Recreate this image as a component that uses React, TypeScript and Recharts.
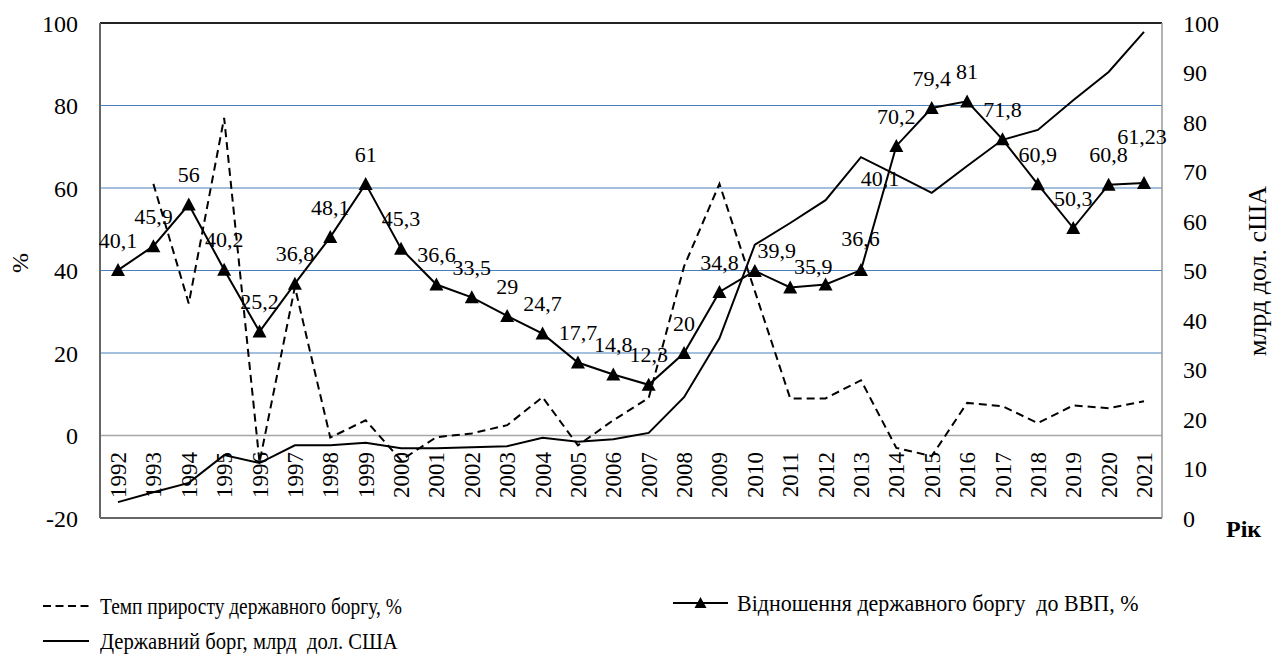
import React from "react";
import {
  ComposedChart,
  Line,
  XAxis,
  YAxis,
  ReferenceLine,
  LabelList,
} from "recharts";

const years = [
  "1992", "1993", "1994", "1995", "1996", "1997", "1998", "1999", "2000", "2001",
  "2002", "2003", "2004", "2005", "2006", "2007", "2008", "2009", "2010", "2011",
  "2012", "2013", "2014", "2015", "2016", "2017", "2018", "2019", "2020", "2021",
];

// темп приросту державного боргу, %
const growthRate = [
  null, 61, 32, 77, -6.5, 36, -0.5, 3.7, -6, -0.4,
  0.5, 2.5, 9.3, -2.4, 3.7, 9.1, 41, 61, 35, 9,
  9, 13.4, -3, -5, 7.9, 7.1, 3, 7.3, 6.6, 8.3,
];

// відношення державного боргу до ВВП, %
const debtToGdp = [
  40.1, 45.9, 56, 40.2, 25.2, 36.8, 48.1, 61, 45.3, 36.6,
  33.5, 29, 24.7, 17.7, 14.8, 12.3, 20, 34.8, 39.9, 35.9,
  36.6, 40.1, 70.2, 79.4, 81, 71.8, 60.9, 50.3, 60.8, 61.23,
];

// державний борг, млрд дол. США
const debt = [
  3.2, 5.2, 7.1, 12.7, 11.1, 14.7, 14.7, 15.2, 14.1, 14.1,
  14.3, 14.5, 16.2, 15.4, 15.9, 17.2, 24.4, 36.3, 55.2, 59.6,
  64.2, 72.9, 69.3, 65.7, 71.1, 76.4, 78.4, 84.4, 90.1, 98.2,
];

const leftTicks = [-20, 0, 20, 40, 60, 80, 100];
const rightTicks = [0, 10, 20, 30, 40, 50, 60, 70, 80, 90, 100];
const gridValues = [20, 40, 60, 80];

const data = years.map((year, i) => ({
  year,
  growth: growthRate[i],
  ratio: debtToGdp[i],
  debt: debt[i],
}));

const FONT = '"Liberation Serif", Tinos, "DejaVu Serif", serif';
const GRID = "#4a7ebb";

// a few labels were moved by hand in the original
const labelShift: Record<number, [number, number]> = {
  18: [22, -21],
  19: [23, -21],
  20: [35, -46],
  21: [19, -92],
  29: [-2, -47],
};

const fmt = (v: number) => String(v).replace(".", ",");

function Triangle(props: any) {
  const { cx, cy } = props;
  if (cx == null || cy == null) return null;
  return (
    <path
      d={`M${cx},${cy - 7} L${cx + 7},${cy + 6} L${cx - 7},${cy + 6} Z`}
      fill="#000"
    />
  );
}

function YearTick(props: any) {
  const { x, y, payload } = props;
  const ay = y - 66;
  return (
    <text
      x={x}
      y={ay}
      transform={`rotate(-90 ${x} ${ay})`}
      textAnchor="end"
      dy="0.35em"
      fontSize={23}
      fontFamily={FONT}
      fill="#000"
    >
      {payload.value}
    </text>
  );
}

function RatioLabel(props: any) {
  const { x, y, value, index } = props;
  const [dx, dy] = labelShift[index] ?? [0, -30];
  return (
    <text
      x={x + dx}
      y={y + dy}
      dy="0.35em"
      textAnchor="middle"
      fontSize={22}
      fontFamily={FONT}
      fill="#000"
    >
      {fmt(value)}
    </text>
  );
}

const legendText = (scale: number): React.CSSProperties => ({
  position: "absolute",
  fontFamily: FONT,
  fontSize: 24,
  lineHeight: "24px",
  whiteSpace: "nowrap",
  transform: `scaleX(${scale})`,
  transformOrigin: "left center",
  color: "#000",
});

function LegendSymbol({
  width,
  dashed,
  marker,
}: {
  width: number;
  dashed?: boolean;
  marker?: boolean;
}) {
  const mid = width / 2;
  return (
    <svg width={width} height={16} style={{ display: "block" }}>
      <line
        x1={0}
        y1={8}
        x2={width}
        y2={8}
        stroke="#000"
        strokeWidth={2}
        strokeDasharray={dashed ? "8 4.5" : undefined}
      />
      {marker && (
        <path d={`M${mid},2 L${mid + 6},13 L${mid - 6},13 Z`} fill="#000" />
      )}
    </svg>
  );
}

export default function App() {
  return (
    <div
      style={{
        position: "absolute",
        left: 0,
        top: 0,
        width: 1277,
        height: 655,
        background: "#fff",
        overflow: "hidden",
      }}
    >
      <ComposedChart
        width={1277}
        height={655}
        data={data}
        margin={{ top: 23, right: 0, left: 0, bottom: 107 }}
      >
        <XAxis
          dataKey="year"
          interval={0}
          height={30}
          padding={{ left: 18, right: 18 }}
          tickLine={false}
          tickSize={0}
          tickMargin={0}
          axisLine={{ stroke: "#666", strokeWidth: 2 }}
          tick={<YearTick />}
        />
        <YAxis
          yAxisId="left"
          orientation="left"
          width={100}
          domain={[-20, 100]}
          ticks={leftTicks}
          tickLine={false}
          tickSize={0}
          tickMargin={22}
          axisLine={{ stroke: "#666", strokeWidth: 2 }}
          tick={{ fontSize: 24, fontFamily: FONT, fill: "#000" }}
        />
        <YAxis
          yAxisId="right"
          orientation="right"
          width={115}
          domain={[0, 100]}
          ticks={rightTicks}
          tickLine={false}
          tickSize={0}
          tickMargin={21}
          axisLine={{ stroke: "#999", strokeWidth: 1.5 }}
          tick={{ fontSize: 24, fontFamily: FONT, fill: "#000", textAnchor: "start" }}
        />
        {gridValues.map((v) => (
          <ReferenceLine key={v} yAxisId="left" y={v} stroke={GRID} strokeWidth={1.2} />
        ))}
        <ReferenceLine yAxisId="left" y={0} stroke="#a6a6a6" strokeWidth={1.5} />
        <ReferenceLine yAxisId="left" y={100} stroke="#222" strokeWidth={2} />
        <Line
          yAxisId="left"
          dataKey="growth"
          stroke="#000"
          strokeWidth={2}
          strokeDasharray="8 5"
          dot={false}
          activeDot={false}
          isAnimationActive={false}
        />
        <Line
          yAxisId="right"
          dataKey="debt"
          stroke="#000"
          strokeWidth={2}
          dot={false}
          activeDot={false}
          isAnimationActive={false}
        />
        <Line
          yAxisId="left"
          dataKey="ratio"
          stroke="#000"
          strokeWidth={2}
          dot={(p: any) => <Triangle key={`t-${p.index}`} {...p} />}
          activeDot={false}
          isAnimationActive={false}
        >
          <LabelList dataKey="ratio" content={<RatioLabel />} />
        </Line>
      </ComposedChart>

      {/* axis titles */}
      <div
        style={{
          position: "absolute",
          left: 20,
          top: 263,
          fontFamily: FONT,
          fontSize: 24,
          transform: "translate(-50%, -50%) rotate(-90deg)",
        }}
      >
        %
      </div>
      <div
        style={{
          position: "absolute",
          left: 1258,
          top: 271,
          fontFamily: FONT,
          fontSize: 26,
          whiteSpace: "nowrap",
          transform: "translate(-50%, -50%) rotate(-90deg)",
        }}
      >
        млрд дол. сША
      </div>
      <div
        style={{
          position: "absolute",
          left: 1226,
          top: 516,
          fontFamily: FONT,
          fontSize: 24,
          fontWeight: "bold",
        }}
      >
        Рік
      </div>

      {/* legend */}
      <div style={{ position: "absolute", left: 43, top: 598 }}>
        <LegendSymbol width={46} dashed />
      </div>
      <div style={{ ...legendText(0.81), left: 100, top: 594 }}>
        Темп приросту державного боргу, %
      </div>
      <div style={{ position: "absolute", left: 673, top: 595 }}>
        <LegendSymbol width={55} marker />
      </div>
      <div style={{ ...legendText(0.915), left: 737, top: 591 }}>
        Відношення державного боргу &nbsp;до ВВП, %
      </div>
      <div style={{ position: "absolute", left: 43, top: 633 }}>
        <LegendSymbol width={46} />
      </div>
      <div style={{ ...legendText(0.86), left: 100, top: 629 }}>
        Державний борг, млрд &nbsp;дол. США
      </div>
    </div>
  );
}
